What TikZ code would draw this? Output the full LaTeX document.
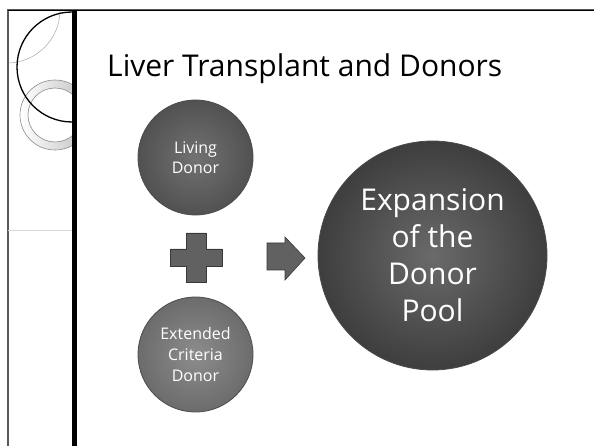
\documentclass[tikz,border=0pt]{standalone}
\usepackage{fontspec}
\setmainfont{Open Sans}
\usepackage{tikz}
\usetikzlibrary{calc}
\definecolor{diskKoyu}{HTML}{3E3E3E}
\definecolor{diskOrta}{HTML}{6A6A6A}
\definecolor{diskAcik}{HTML}{8C8C8C}
\definecolor{diskKenar}{HTML}{6C6C6C}
\definecolor{halkaGri}{HTML}{9A9A9A}
\definecolor{cizgiGri}{HTML}{D8D8D8}

\begin{document}
\begin{tikzpicture}[x=1pt,y=-1pt,
  disk/.style={circle,inner sep=0pt,text=white,align=center,draw=black!70,line width=0.8pt},
  isaret/.style={fill=black!62,draw=black!78,line width=0.6pt,line join=miter}]
\useasboundingbox (0,0) rectangle (594,446);
% cerceve
\draw[black!65,line width=2pt] (8,446)--(8,10.5)--(594,10.5);
\draw[black,line width=1.6pt] (8,10.5)--(594,10.5);
\draw[cizgiGri,line width=0.6pt] (8,230)--(72,230);
% sol kenar halkalari
\begin{scope}
\clip (9,11.5) rectangle (72,446);
\draw[black!35,line width=0.5pt] (7,10) circle (53);
\shade[even odd rule,left color=white,right color=black!25,draw=black!45,line width=0.6pt]
  (55,115) circle (35) (55,115) circle (27);
\draw[black,line width=1.3pt] (72,67) circle (55);
\end{scope}
\draw[black,line width=5pt] (74.5,10)--(74.5,446);
% baslik
\node[anchor=base west,inner sep=0pt,font=\fontsize{30}{34}\selectfont] (baslik) at (107,77) {Liver Transplant and Donors};
% donor halkalari
\node[disk,minimum size=115pt,inner color=diskOrta!95,outer color=diskKoyu!90!white,
  font=\fontsize{16}{20}\selectfont] (canli) at (195.5,157.5) {Living\\Donor};
\node[disk,minimum size=115pt,inner color=diskAcik,outer color=diskKenar,
  font=\fontsize{16}{21}\selectfont] (genis) at (195.5,354.5) {Extended\\Criteria\\Donor};
\node[disk,minimum size=229pt,inner color=diskOrta,outer color=diskKoyu,
  font=\fontsize{30}{37}\selectfont] (havuz) at (432.5,255.5) {Expansion\\of the\\Donor\\Pool};
% arti ve ok
\filldraw[isaret] (186,233) -| (206,249) -| (222,266) -| (206,282) -| (186,266) -| (170,249) -| cycle;
\filldraw[isaret] (267,243) -- (285,243) -- (285,237) -- (305,258) -- (285,280) -- (285,270) -- (267,270) -- cycle;
\end{tikzpicture}
\end{document}
